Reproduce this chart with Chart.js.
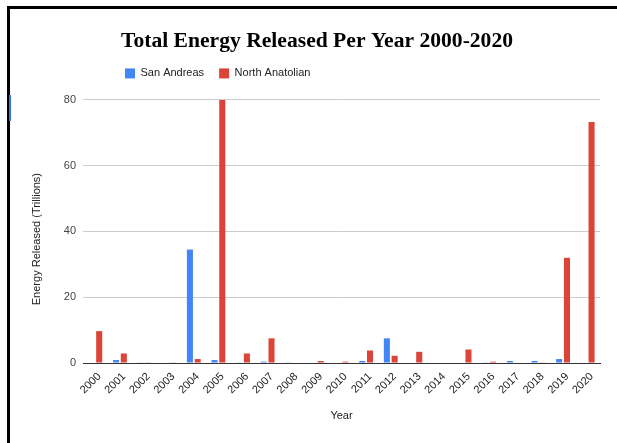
<!DOCTYPE html>
<html>
<head>
<meta charset="utf-8">
<script src="https://cdn.jsdelivr.net/npm/chart.js@4"></script>
<style>
  html, body { margin: 0; padding: 0; background: #fff; }
  #frame { position: absolute; left: 7px; top: 6px; right: 0; bottom: 0;
           border-top: 3px solid #000; border-left: 3px solid #000; }
  #marker { position: absolute; left: 9px; top: 95px; width: 2px; height: 26px; background: #3b78e7; }
  #wrap { position: absolute; left: 0; top: 0; width: 617px; height: 443px; }
</style>
</head>
<body>
<div id="frame"></div>
<div id="marker"></div>
<div id="wrap"><canvas id="chart" width="617" height="443"></canvas></div>
<script>
// Years on the category axis
const years = ['2000','2001','2002','2003','2004','2005','2006','2007','2008','2009','2010',
               '2011','2012','2013','2014','2015','2016','2017','2018','2019','2020'];
// Energy released per year, in trillions
const sanAndreas     = [0, 0.9, 0.2, 0, 34.5, 0.9, 0.2, 0.4, 0.2, 0, 0, 0.6, 7.5, 0, 0, 0, 0.2, 0.6, 0.6, 1.2, 0];
const northAnatolian = [9.7, 2.9, 0.2, 0.2, 1.2, 80, 2.9, 7.5, 0, 0.6, 0.4, 3.8, 2.2, 3.4, 0, 4.1, 0.4, 0, 0.2, 32, 73.3];
// Value axis ticks
const yTicks = [0, 20, 40, 60, 80];

const sans = "'Liberation Sans', Arial, sans-serif";

// Header placement: centre the title on the whole frame, start the legend
// row further right and leave extra room beneath it
const headerPlacement = {
  id: 'headerPlacement',
  beforeLayout(chart) {
    const lg = chart.legend;
    if (lg && !lg._padded) {
      const fit = lg.fit;
      lg.fit = function () { fit.call(this); this.height += 11; };
      lg._padded = true;
    }
  },
  afterLayout(chart) {
    if (chart.legend) chart.legend.left = 110;
    const tb = chart.titleBlock;
    if (tb) { tb.left += 17; tb.right += 17; }
  }
};

new Chart(document.getElementById('chart'), {
  type: 'bar',
  data: {
    labels: years,
    datasets: [
      { label: 'San Andreas', data: sanAndreas, backgroundColor: '#4285f4',
        categoryPercentage: 0.63, barPercentage: 0.78 },
      { label: 'North Anatolian', data: northAnatolian, backgroundColor: '#db4437',
        categoryPercentage: 0.63, barPercentage: 0.78 }
    ]
  },
  plugins: [headerPlacement],
  options: {
    responsive: false,
    animation: false,
    layout: { padding: { left: 0, right: 17, top: 0, bottom: 0 } },
    plugins: {
      title: {
        display: true,
        text: 'Total Energy Released Per Year 2000-2020',
        color: '#000',
        font: { family: "'Liberation Serif', Georgia, serif", size: 21.6, weight: 'bold' },
        padding: { top: 28, bottom: -1 }
      },
      legend: {
        position: 'top',
        align: 'start',
        labels: {
          boxWidth: 10, boxHeight: 10, padding: 15, color: '#222',
          font: { family: sans, size: 11 }
        }
      },
      tooltip: { enabled: false }
    },
    scales: {
      x: {
        grid: { display: false, drawTicks: false },
        border: { display: true, color: '#333', width: 1 },
        ticks: {
          color: '#222', font: { family: sans, size: 11 },
          maxRotation: 45, minRotation: 45, padding: 7, labelOffset: 4, autoSkip: false
        },
        title: {
          display: true, text: 'Year', color: '#222',
          font: { family: sans, size: 11 }, padding: { top: 0, bottom: 20 }
        },
        afterFit(scale) { scale.height = 80; }
      },
      y: {
        min: 0, max: 80,
        afterBuildTicks(scale) { scale.ticks = yTicks.map(v => ({ value: v })); },
        grid: { color: '#cccccc', drawTicks: false },
        border: { display: false },
        ticks: { color: '#444', font: { family: sans, size: 11 }, padding: 7 },
        title: {
          display: true, text: 'Energy Released (Trillions)     ', color: '#222',
          font: { family: sans, size: 11 }, padding: { top: 30, bottom: 0 }
        },
        afterFit(scale) { scale.width = 83; }
      }
    }
  }
});
</script>
</body>
</html>
